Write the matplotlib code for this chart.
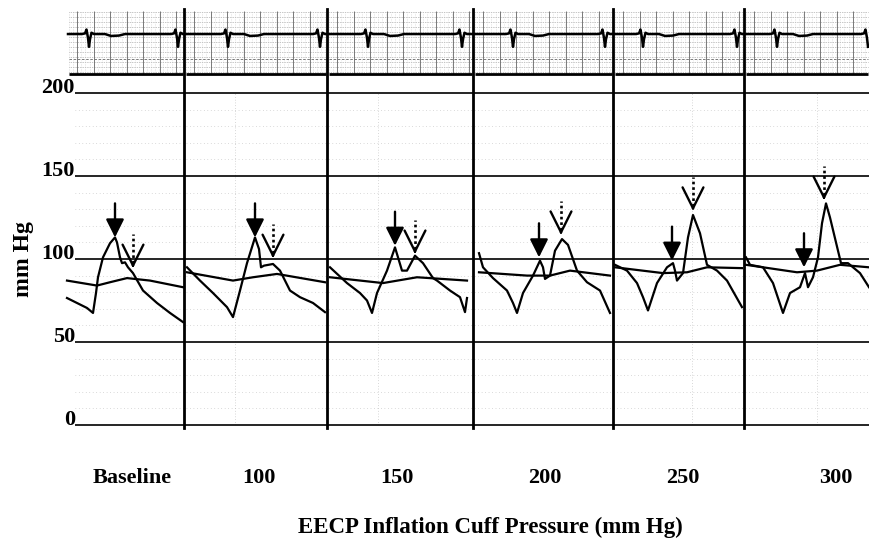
import matplotlib
matplotlib.use("Agg")
import matplotlib.pyplot as plt
from matplotlib.lines import Line2D
import numpy as np

plt.rcParams['font.family'] = ['Liberation Serif', 'DejaVu Serif']

# ---------------- data ----------------
panel_labels = ["Baseline", "100", "150", "200", "250", "300"]
y_ticks = [0, 50, 100, 150, 200]
x_title = "EECP Inflation Cuff Pressure (mm Hg)"
y_title = "mm Hg"

# arterial pressure waveform per panel (local time units, mmHg)
art_t_1 = [0, 10, 20, 26, 29, 31, 36, 43, 48, 50, 53, 55, 58, 61, 66, 76, 90, 103, 116]
art_p_1 = [76.5, 73.5, 70.5, 67.5, 79.5, 89, 101, 109.5, 113, 110, 101, 97.5, 98, 95, 91.5, 81, 73.5, 67.5, 62]
art_t_2 = [3, 16, 29, 43, 49, 56, 63, 71, 75, 77, 80, 89, 96, 106, 116, 129, 141]
art_p_2 = [95, 87, 79.5, 71, 65, 81, 97.5, 113, 106, 95, 96, 97, 93, 81, 77, 73.5, 68]
art_t_3 = [3, 20, 33, 40, 45, 50, 60, 68, 71, 75, 80, 88, 96, 106, 110, 123, 133, 138, 140]
art_p_3 = [95, 85.5, 79.5, 75, 67.5, 79.5, 93, 107, 101, 93, 93, 102, 97.5, 88.5, 87, 81, 77, 68, 76.5]
art_t_4 = [6, 10, 20, 34, 40, 44, 50, 60, 67, 70, 72, 77, 82, 89, 95, 104, 114, 127, 137]
art_p_4 = [103.5, 95, 88.5, 81, 73.5, 67.5, 79.5, 90, 99, 95, 88, 90, 105, 112, 108.5, 93, 86, 81, 67.5]
art_t_5 = [2, 14, 24, 30, 35, 44, 54, 60, 62, 64, 70, 75, 80, 87, 94, 104, 114, 129]
art_p_5 = [96.5, 93, 85.5, 77, 69, 85.5, 95, 97.5, 93, 87, 91.5, 113, 126.5, 115.5, 96.5, 93, 87, 71]
art_t_6 = [2, 6, 19, 29, 39, 46, 56, 61, 64, 69, 74, 78, 82, 86, 97, 104, 116, 125]
art_p_6 = [101, 96.5, 95, 85.5, 67.5, 79.5, 83, 91.5, 83, 89, 101, 121.5, 133.5, 125, 97.5, 97.5, 91.5, 83]

# second (flatter) pressure trace per panel
cuff_t_1 = [0, 30, 43, 60, 83, 116]
cuff_p_1 = [87, 84, 86, 88.5, 87, 83]
cuff_t_2 = [3, 49, 69, 93, 141]
cuff_p_2 = [92, 87, 89, 91, 86]
cuff_t_3 = [3, 56, 90, 140]
cuff_p_3 = [89, 85.5, 89, 87]
cuff_t_4 = [6, 54, 77, 97, 137]
cuff_p_4 = [92, 90, 90, 93, 90]
cuff_t_5 = [2, 50, 74, 94, 129]
cuff_p_5 = [95, 91.5, 92, 95, 94.5]
cuff_t_6 = [2, 53, 73, 96, 125]
cuff_p_6 = [96.5, 92, 93, 96.5, 95]

# arrow tips (solid = systolic peak, dotted = diastolic augmentation)
sys_arrow_t = [48, 71, 68, 66, 59, 60]
sys_arrow_p = [113, 113, 108, 101, 99, 95]
dia_arrow_t = [66, 89, 88, 88, 80, 80]
dia_arrow_p = [94.5, 100.5, 103, 114.5, 129, 135.5]

# ECG: beat (QRS dip) times per panel and beat shape
ecg_beats = [[22, 111], [44, 136], [41, 135], [40, 132], [30, 124], [33, 124]]
qrs_dt = [-7, -4, -2.5, -1, 0, 1, 2.5, 5, 16, 22, 30, 36]
qrs_mv = [0, 0.05, 0.35, -0.3, -1.0, -0.4, 0.1, 0, 0, -0.15, -0.12, 0]

art_t = [art_t_1, art_t_2, art_t_3, art_t_4, art_t_5, art_t_6]
art_p = [art_p_1, art_p_2, art_p_3, art_p_4, art_p_5, art_p_6]
cuff_t = [cuff_t_1, cuff_t_2, cuff_t_3, cuff_t_4, cuff_t_5, cuff_t_6]
cuff_p = [cuff_p_1, cuff_p_2, cuff_p_3, cuff_p_4, cuff_p_5, cuff_p_6]

# ---------------- layout ----------------
W, H = 869, 545
edges_px = [67, 184, 327, 473, 613, 744, 869]
offsets = [e - edges_px[0] for e in edges_px[:-1]]
widths = [edges_px[i + 1] - edges_px[i] for i in range(6)]
label_x_px = [132, 259, 397, 545, 683, 836]
ARROW_LEN = 20.5

fig = plt.figure(figsize=(W / 100, H / 100), dpi=100)

# main pressure axes
ax = fig.add_axes([59 / W, 1 - 425 / H, (869 - 59) / W, (425 - 93) / H])
ax.set_xlim(-8, 802)
ax.set_ylim(0, 200)
ax.axis('off')

# faint dotted grid
for v in range(10, 200, 10):
    if v % 50:
        ax.hlines(v, 8, 802, color='0.72', lw=0.5, linestyles=(0, (1, 4)))
for i, frac in [(1, 0.36), (2, 0.35), (4, 0.6), (5, 0.58)]:
    xv = offsets[i] + widths[i] * frac
    ax.vlines(xv, 0, 200, color='0.7', lw=0.5, linestyles=(0, (1, 3)))

# main horizontal lines
for v in y_ticks:
    ax.hlines(v, 8, 802, color='k', lw=1.2, clip_on=False)
    ax.text(8, v, str(v), ha='right', va='baseline', fontsize=16,
            fontweight='bold')

for i in range(6):
    off = offsets[i]
    ax.plot(off + np.array(cuff_t[i]), cuff_p[i], color='k', lw=1.6,
            solid_joinstyle='round')
    ax.plot(off + np.array(art_t[i]), art_p[i], color='k', lw=1.6,
            solid_joinstyle='round')
    # solid arrow
    xs, ys = off + sys_arrow_t[i], sys_arrow_p[i]
    ax.annotate('', xy=(xs, ys), xytext=(xs, ys + ARROW_LEN),
                arrowprops=dict(arrowstyle='-|>,head_length=1.1,head_width=0.55',
                                color='k', lw=1.7, shrinkA=0, shrinkB=0,
                                mutation_scale=10))
    # dotted arrow with open head
    xd, yd = off + dia_arrow_t[i], dia_arrow_p[i]
    ax.plot([xd, xd], [yd + 3, yd + ARROW_LEN], color='k', lw=1.9,
            linestyle=(0, (1, 1.1)))
    ax.annotate('', xy=(xd, yd), xytext=(xd, yd + 3),
                arrowprops=dict(arrowstyle='->,head_length=1.5,head_width=0.75',
                                color='k', lw=1.7, shrinkA=0, shrinkB=0,
                                mutation_scale=10))

# ECG strip
ex = fig.add_axes([59 / W, 1 - 76 / H, (869 - 59) / W, 65 / H])
ex.set_xlim(-8, 802)
ex.set_ylim(-3.28, 1.8)
ex.axis('off')
for i in range(6):
    off, w = offsets[i], widths[i]
    x0, x1 = off + 2, off + w - 1
    for yv in np.arange(-2.95, 1.8, 0.39):
        ex.hlines(yv, x0, x1, color='0.55', lw=0.5, linestyles=(0, (1, 1.5)))
    for xv in np.arange(x0, x1, 4.1):
        ex.vlines(xv, -3.15, 1.8, color='0.75', lw=0.4, linestyles=(0, (1, 2)))
    for xv in np.arange(off + 10, x1, 16.5):
        ex.vlines(xv, -3.15, 1.8, color='0.4', lw=0.6)
    ex.hlines(-1.95, x0, x1, color='0.4', lw=0.6, linestyles=(0, (3, 2)))
    ex.hlines(-3.15, x0, x1, color='k', lw=2)
    # trace
    tx, ty = [1.0], [0.0]
    for b in ecg_beats[i]:
        for dt, mv in zip(qrs_dt, qrs_mv):
            if 1 < b + dt < w:
                tx.append(b + dt)
                ty.append(mv)
    if tx[-1] < w - 1:
        tx.append(w - 1)
        ty.append(0.0)
    ex.plot(off + np.array(tx), ty, color='k', lw=1.8, clip_on=False)

# dividers
for xp in edges_px[1:-1]:
    fig.add_artist(Line2D([xp / W, xp / W], [1 - 428 / H, 1 - 9 / H],
                          color='k', lw=2))

# labels
for lab, cx in zip(panel_labels, label_x_px):
    fig.text(cx / W, 1 - 478 / H, lab, ha='center', va='center',
             fontsize=16, fontweight='bold')
fig.text(490 / W, 1 - 527 / H, x_title, ha='center', va='center',
         fontsize=16.5, fontweight='bold')
fig.text(23 / W, 1 - 259 / H, y_title, rotation=90, ha='center', va='center',
         fontsize=17, fontweight='bold')

fig.savefig('out.png', dpi=100)
